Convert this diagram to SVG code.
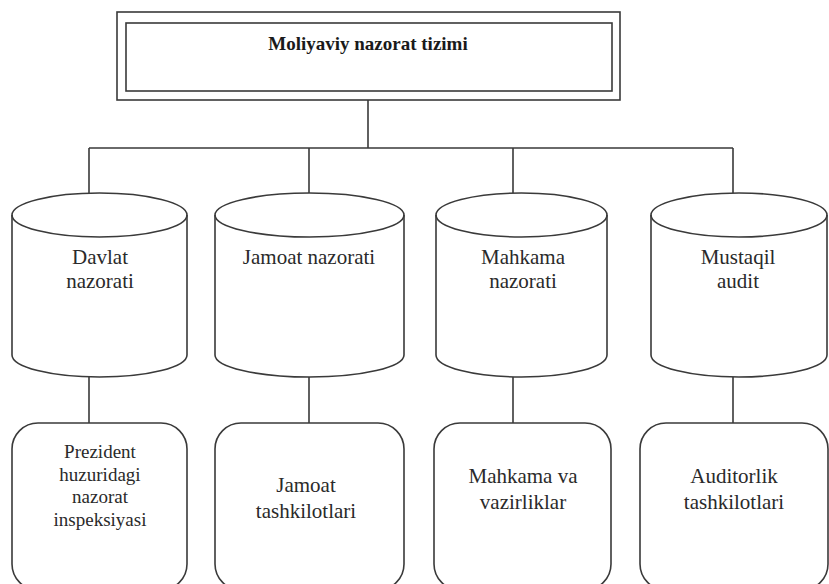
<svg xmlns="http://www.w3.org/2000/svg" width="829" height="584" viewBox="0 0 829 584">
<style>
.ln{fill:none;stroke:#3a3a3a;stroke-width:1.6}
.sh{fill:#fff;stroke:#3a3a3a;stroke-width:1.6}
.t{font-family:"Liberation Serif","Times New Roman",serif;font-size:21px;fill:#2a2a2a;text-anchor:middle}
.s{font-size:19px}
.tb{font-family:"Liberation Serif","Times New Roman",serif;font-size:19px;font-weight:bold;fill:#1a1a1a;text-anchor:middle}
</style>
<rect width="829" height="584" fill="#fff"/>
<g id="connectors" class="ln">
<path d="M368 100V148M89 148H733M89 148V193M309 148V193M513 148V193M733 148V193"/>
<path d="M89 377V423M309 377V423M513 377V423M733 377V423"/>
</g>
<g id="root">
<rect class="sh" x="117" y="12" width="503" height="88" stroke-width="2.2"/>
<rect class="ln" x="126" y="23" width="486" height="68" stroke-width="1.8"/>
<text class="tb" x="368" y="50">Moliyaviy nazorat tizimi</text>
</g>
<g id="cyl1">
<path class="sh" d="M12 215V355A87.5 22 0 0 0 187 355V215A87.5 22 0 0 0 12 215Z"/>
<path class="ln" d="M12 215A87.5 22 0 0 0 187 215"/>
<text class="t" x="100" y="264">Davlat</text>
<text class="t" x="100" y="288">nazorati</text>
</g>
<g id="cyl2">
<path class="sh" d="M215 215V355A94.5 22 0 0 0 404 355V215A94.5 22 0 0 0 215 215Z"/>
<path class="ln" d="M215 215A94.5 22 0 0 0 404 215"/>
<text class="t" x="309" y="264">Jamoat nazorati</text>
</g>
<g id="cyl3">
<path class="sh" d="M436 215V355A85.5 22 0 0 0 607 355V215A85.5 22 0 0 0 436 215Z"/>
<path class="ln" d="M436 215A85.5 22 0 0 0 607 215"/>
<text class="t" x="523" y="264">Mahkama</text>
<text class="t" x="523" y="288">nazorati</text>
</g>
<g id="cyl4">
<path class="sh" d="M651 215V355A88 22 0 0 0 827 355V215A88 22 0 0 0 651 215Z"/>
<path class="ln" d="M651 215A88 22 0 0 0 827 215"/>
<text class="t" x="738" y="264">Mustaqil</text>
<text class="t" x="738" y="288">audit</text>
</g>
<g id="box1">
<rect class="sh" x="12" y="423" width="175" height="167" rx="26"/>
<text class="t s" x="100" y="458">Prezident</text>
<text class="t s" x="100" y="481">huzuridagi</text>
<text class="t s" x="100" y="503">nazorat</text>
<text class="t s" x="100" y="526">inspeksiyasi</text>
</g>
<g id="box2">
<rect class="sh" x="215" y="423" width="189" height="167" rx="26"/>
<text class="t" x="306" y="492">Jamoat</text>
<text class="t" x="306" y="518">tashkilotlari</text>
</g>
<g id="box3">
<rect class="sh" x="434" y="423" width="177" height="167" rx="26"/>
<text class="t" x="523" y="483">Mahkama va</text>
<text class="t" x="523" y="509">vazirliklar</text>
</g>
<g id="box4">
<rect class="sh" x="640" y="423" width="188" height="167" rx="26"/>
<text class="t" x="734" y="483">Auditorlik</text>
<text class="t" x="734" y="509">tashkilotlari</text>
</g>
</svg>
